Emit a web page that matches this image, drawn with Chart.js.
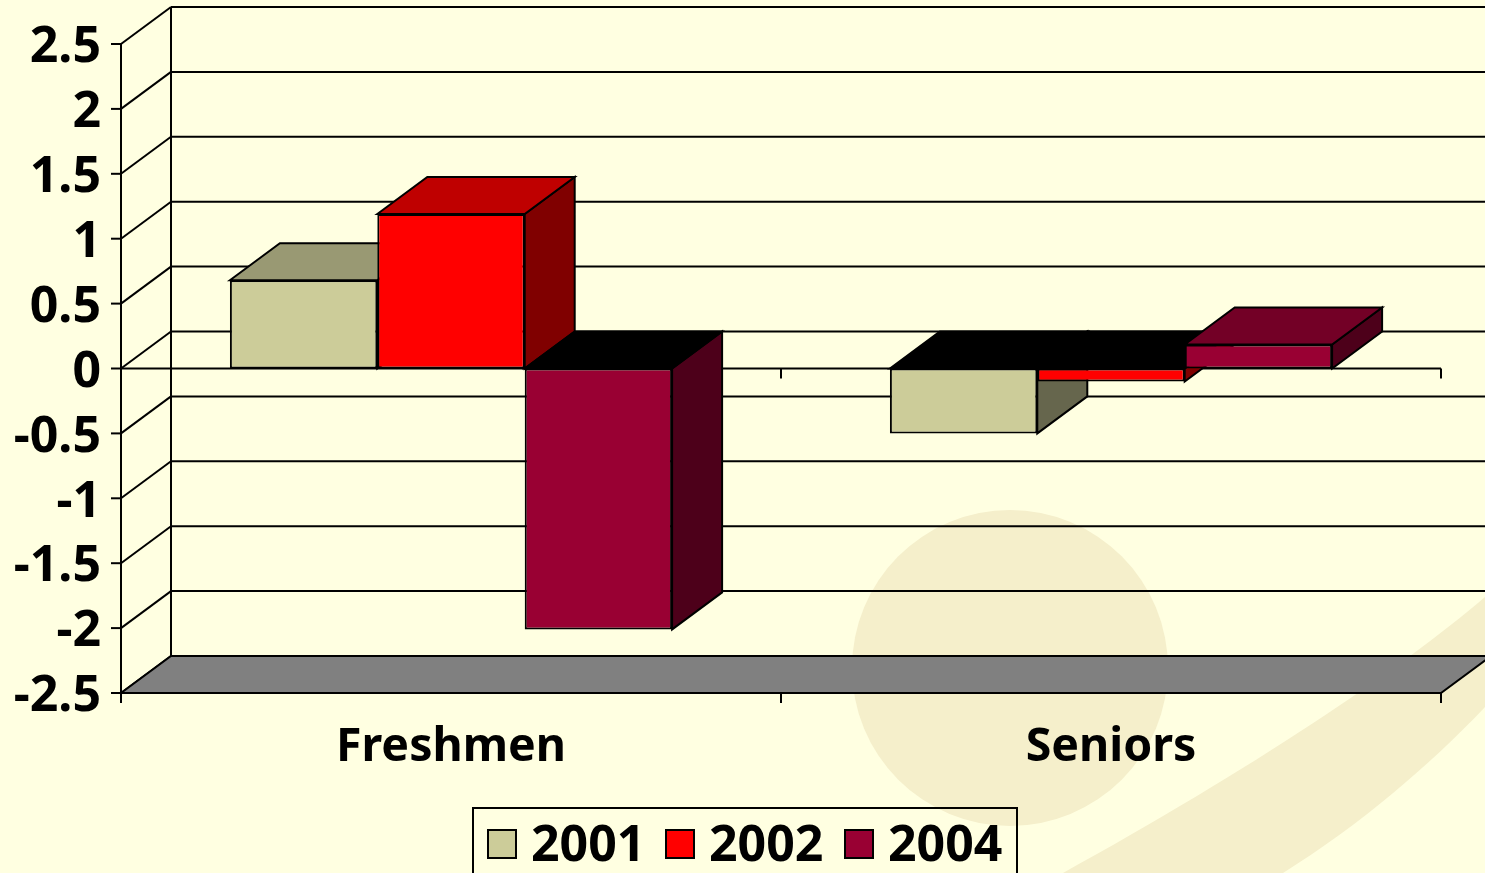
<!DOCTYPE html>
<html>
<head>
<meta charset="utf-8">
<title>Freshmen and Seniors</title>
<style>
    html, body { margin: 0; padding: 0; background: #FFFFE1; overflow: hidden; }
    canvas { display: block; }
</style>
<script src="https://cdn.jsdelivr.net/npm/chart.js@4"></script>
</head>
<body>
<canvas id="barChart" width="1485" height="873"></canvas>
<script>
const categories = ['Freshmen', 'Seniors'];
const years = ['2001', '2002', '2004'];
const values2001 = [0.68, -0.5];
const values2002 = [1.19, -0.1];
const values2004 = [-2.01, 0.185];
// bottom to top, the order the linear scale builds its ticks
const yTickLabels = ['-2.5', '-2', '-1.5', '-1', '-0.5', '0', '0.5', '1', '1.5', '2', '2.5'];

const faceColors = ['#CCCC99', '#FF0000', '#990033'];
const topColors = ['#999973', '#BF0000', '#730026'];
const sideColors = ['#66664D', '#800000', '#4D001A'];

// depth of the fake 3D box
const depthX = 50;
const depthY = 37;
const fontFamily = '"Noto Sans", sans-serif';

function polygon(ctx, points, fill) {
    ctx.beginPath();
    points.forEach((p, i) => i ? ctx.lineTo(p[0], p[1]) : ctx.moveTo(p[0], p[1]));
    ctx.closePath();
    if (fill) {
        ctx.fillStyle = fill;
        ctx.fill();
    }
    ctx.stroke();
}

function line(ctx, x1, y1, x2, y2) {
    ctx.beginPath();
    ctx.moveTo(x1, y1);
    ctx.lineTo(x2, y2);
    ctx.stroke();
}

const backdrop = {
    id: 'backdrop',
    beforeDraw(chart) {
        const ctx = chart.ctx;
        ctx.save();
        ctx.fillStyle = '#FFFFE1';
        ctx.fillRect(0, 0, chart.width, chart.height);
        ctx.fillStyle = '#F5EFCB';
        ctx.beginPath();
        ctx.arc(1010, 668, 158, 0, Math.PI * 2);
        ctx.fill();
        // swoosh in the lower right corner
        ctx.beginPath();
        ctx.moveTo(1485, 597);
        ctx.bezierCurveTo(1400, 670, 1250, 770, 1063, 873);
        ctx.lineTo(1283, 873);
        ctx.bezierCurveTo(1360, 825, 1430, 765, 1485, 707);
        ctx.closePath();
        ctx.fill();
        ctx.restore();
    }
};

function drawWalls(chart) {
    const ctx = chart.ctx;
    const area = chart.chartArea;
    const y = chart.scales.y;
    const bottom = y.getPixelForValue(y.min);
    const top = y.getPixelForValue(y.max);
    const zero = y.getPixelForValue(0);

    ctx.strokeStyle = '#000000';
    ctx.lineWidth = 2;

    y.ticks.forEach(tick => {
        const py = y.getPixelForValue(tick.value);
        line(ctx, area.left - 10, py, area.left, py);
        line(ctx, area.left, py, area.left + depthX, py - depthY);
        line(ctx, area.left + depthX, py - depthY, area.right + depthX, py - depthY);
    });
    line(ctx, area.left, top, area.left, bottom + 10);
    line(ctx, area.left + depthX, top - depthY, area.left + depthX, bottom - depthY);

    polygon(ctx, [
        [area.left, bottom],
        [area.left + depthX, bottom - depthY],
        [area.right + depthX, bottom - depthY],
        [area.right, bottom]
    ], '#808080');

    // category separators on the floor and on the zero line
    const edges = [area.left, (area.left + area.right) / 2, area.right];
    edges.forEach(px => line(ctx, px, bottom, px, bottom + 10));
    line(ctx, area.left, zero, area.right, zero);
    edges.slice(1).forEach(px => line(ctx, px, zero, px, zero + 10));
}

function drawBarDepth(ctx, bar, index, value) {
    const left = bar.x - bar.width / 2;
    const right = bar.x + bar.width / 2;
    const top = Math.min(bar.y, bar.base);
    const bottom = Math.max(bar.y, bar.base);

    ctx.strokeStyle = '#000000';
    ctx.lineWidth = 2;
    polygon(ctx, [
        [right, top],
        [right + depthX, top - depthY],
        [right + depthX, bottom - depthY],
        [right, bottom]
    ], sideColors[index]);
    // a bar under zero shows a black lid
    polygon(ctx, [
        [left, top],
        [left + depthX, top - depthY],
        [right + depthX, top - depthY],
        [right, top]
    ], value < 0 ? '#000000' : topColors[index]);
}

const box3d = {
    id: 'box3d',
    beforeDatasetsDraw(chart) {
        const ctx = chart.ctx;
        ctx.save();
        drawWalls(chart);
        // painter's order, left to right, so each box covers the one before
        chart.data.labels.forEach((label, i) => {
            chart.data.datasets.forEach((dataset, d) => {
                const bar = chart.getDatasetMeta(d).data[i];
                drawBarDepth(ctx, bar, d, dataset.data[i]);
                bar.draw(ctx, chart.chartArea);
            });
        });
        ctx.restore();
        return false;
    }
};

const boxLegend = {
    id: 'boxLegend',
    afterDraw(chart) {
        const ctx = chart.ctx;
        ctx.save();
        ctx.strokeStyle = '#000000';
        ctx.lineWidth = 2;
        ctx.strokeRect(473, 808, 544, 80);
        ctx.font = 'bold 50px ' + fontFamily;
        ctx.textBaseline = 'middle';
        ctx.textAlign = 'left';
        const swatchX = [488, 666, 845];
        chart.data.datasets.forEach((dataset, d) => {
            ctx.fillStyle = dataset.backgroundColor;
            ctx.fillRect(swatchX[d], 830, 28, 28);
            ctx.strokeRect(swatchX[d], 830, 28, 28);
            ctx.fillStyle = '#000000';
            ctx.fillText(dataset.label, swatchX[d] + 43, 847);
        });
        ctx.restore();
    }
};

new Chart(document.getElementById('barChart'), {
    type: 'bar',
    data: {
        labels: categories,
        datasets: [
            { label: years[0], data: values2001, backgroundColor: faceColors[0] },
            { label: years[1], data: values2002, backgroundColor: faceColors[1] },
            { label: years[2], data: values2004, backgroundColor: faceColors[2] }
        ]
    },
    options: {
        responsive: false,
        animation: false,
        layout: { padding: { top: 44, right: 44, bottom: 90, left: 0 } },
        datasets: {
            bar: {
                categoryPercentage: 0.67,
                barPercentage: 1,
                borderColor: '#000000',
                borderWidth: 2,
                borderSkipped: false
            }
        },
        plugins: {
            legend: { display: false },
            tooltip: { enabled: false }
        },
        scales: {
            x: {
                grid: { display: false, drawTicks: false },
                border: { display: false },
                ticks: {
                    color: '#000000',
                    padding: 27,
                    maxRotation: 0,
                    font: { family: fontFamily, size: 46.5, weight: 'bold' }
                },
                afterFit(scale) { scale.height = 90; }
            },
            y: {
                min: -2.5,
                max: 2.5,
                grid: { display: false, drawTicks: false },
                border: { display: false },
                ticks: {
                    stepSize: 0.5,
                    color: '#000000',
                    padding: 20,
                    labelOffset: 4,
                    font: { family: fontFamily, size: 50, weight: 'bold' },
                    callback(value, index) { return yTickLabels[index]; }
                },
                afterFit(scale) {
                    scale.width = 121;
                    scale.paddingTop = 0;
                    scale.paddingBottom = 0;
                }
            }
        }
    },
    plugins: [backdrop, box3d, boxLegend]
});
</script>
</body>
</html>
